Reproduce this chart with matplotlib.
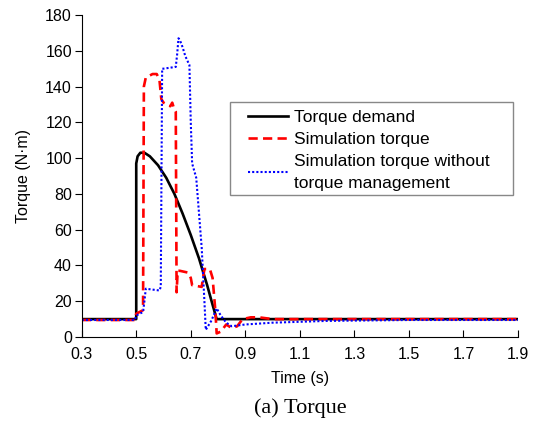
import matplotlib
matplotlib.use('Agg')
import matplotlib.pyplot as plt
from matplotlib.patches import Rectangle
import numpy as np

plt.rcParams['font.family'] = ['Liberation Sans', 'DejaVu Sans']

# Torque demand (solid black)
t_demand = [0.30, 0.50, 0.500, 0.505, 0.515, 0.53, 0.55, 0.58, 0.61, 0.64, 0.67,
            0.70, 0.73, 0.76, 0.78, 0.795, 1.90]
v_demand = [10, 10, 97, 101, 103, 103, 101, 96, 89, 80, 69,
            57, 44, 29, 18, 10, 10]

# Simulation torque (red dashed)
t_sim = [0.30, 0.495, 0.50, 0.525, 0.528, 0.535, 0.56, 0.575, 0.585, 0.592, 0.60,
         0.625, 0.632, 0.638, 0.645, 0.648, 0.652, 0.66, 0.69, 0.70, 0.705, 0.74,
         0.75, 0.77, 0.78, 0.79, 0.795, 0.81, 0.83, 0.85, 0.87, 0.89, 0.92, 0.95,
         1.00, 1.90]
v_sim = [9.5, 9.5, 13, 15, 140, 145, 147, 147, 144, 133, 131,
         129, 131, 128, 126, 25, 37, 37, 36, 33, 29, 28,
         38, 38, 33, 15, 2, 3, 7, 5, 6, 10, 11, 11,
         10, 10]

# Simulation torque without torque management (blue dotted)
t_nom = [0.30, 0.495, 0.50, 0.525, 0.53, 0.535, 0.585, 0.59, 0.595, 0.60, 0.645,
         0.65, 0.655, 0.66, 0.67, 0.68, 0.695, 0.70, 0.705, 0.72, 0.74,
         0.75, 0.755, 0.775, 0.795, 0.81, 0.83, 0.85, 0.90, 1.00, 1.20, 1.50, 1.90]
v_nom = [9.5, 9.5, 12, 14, 20, 27, 26, 28, 150, 150, 151,
         158, 167, 166, 162, 157, 152, 120, 97, 89, 50,
         20, 4, 9, 16, 12, 8, 6, 7, 8, 9, 9.5, 9.5]

x_ticks = [0.3, 0.5, 0.7, 0.9, 1.1, 1.3, 1.5, 1.7, 1.9]
y_ticks = [0, 20, 40, 60, 80, 100, 120, 140, 160, 180]

W, H = 537, 424
fig = plt.figure(figsize=(W / 100, H / 100), dpi=100)
ax = fig.add_axes([81.7 / W, 1 - 337 / H, (518 - 81.7) / W, (337 - 15) / H])

ax.plot(t_demand, v_demand, color='black', lw=1.9, label='Torque demand')
ax.plot(t_sim, v_sim, color='red', lw=1.9, ls=(0, (3.5, 2)), label='Simulation torque')
ax.plot(t_nom, v_nom, color='blue', lw=1.5, ls=(0, (1, 1)),
        label='Simulation torque without\ntorque management')

ax.set_xlim(0.3, 1.9)
ax.set_ylim(0, 180)
ax.set_xticks(x_ticks)
ax.set_xticklabels([f'{v:g}' for v in x_ticks])
ax.set_yticks(y_ticks)
ax.spines['top'].set_visible(False)
ax.spines['right'].set_visible(False)
ax.tick_params(axis='x', direction='in', length=5, labelsize=11.5, pad=7)
ax.tick_params(axis='y', direction='out', length=5, labelsize=11.5, pad=2)
ax.set_xlabel('Time (s)', fontsize=11.5, labelpad=7)
ax.set_ylabel('Torque (N·m)', fontsize=11.5, labelpad=10)

# legend frame drawn separately (MATLAB-style padding)
ax.add_patch(Rectangle((230 / W, 1 - 195 / H), (513 - 230) / W, (195 - 102) / H,
                       transform=fig.transFigure, clip_on=False, facecolor='white',
                       edgecolor='#888888', lw=1.0, zorder=4))
leg = ax.legend(loc='upper left', bbox_to_anchor=(248 / W, 1 - 110 / H),
                bbox_transform=fig.transFigure, fontsize=12.5, frameon=False,
                handlelength=2.3, handletextpad=0.35, labelspacing=0.4,
                borderpad=0, borderaxespad=0)
for txt in leg.get_texts():
    txt.set_linespacing(1.55)
leg.set_zorder(5)

fig.text(300 / W, 1 - 408 / H, '(a) Torque', ha='center', va='center',
         fontsize=16, family=['Liberation Serif', 'DejaVu Serif'])

fig.savefig('out.png', dpi=100)
